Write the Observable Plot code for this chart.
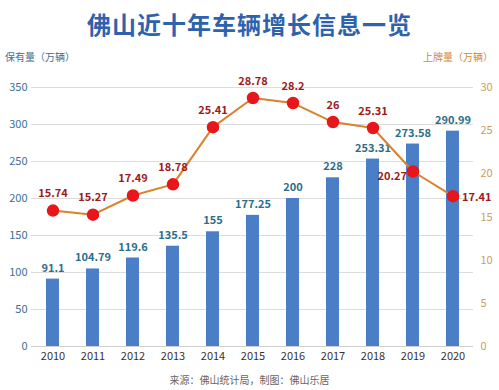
<!DOCTYPE html>
<html><head><meta charset="utf-8">
<script src="https://cdn.jsdelivr.net/npm/d3@7"></script>
<script src="https://cdn.jsdelivr.net/npm/@observablehq/plot@0.6"></script>
<style>
body{margin:0;background:#fff;font-family:"Noto Sans CJK SC","Noto Sans",sans-serif;}
#wrap{position:relative;width:499px;height:390px;overflow:hidden;}
.t{position:absolute;white-space:nowrap;}
</style></head>
<body><div id="wrap">
<div class="t" style="left:0;width:499px;top:6px;text-align:center;font-size:24px;font-weight:bold;color:#2f62ad;letter-spacing:1px;">佛山近十年车辆增长信息一览</div>
<div class="t" style="left:5px;top:49px;font-size:10px;color:#3c6f98;">保有量（万辆）</div>
<div class="t" style="right:6px;top:49px;font-size:10px;color:#d8873a;">上牌量（万辆）</div>
<div class="t" style="left:0;width:499px;top:372px;text-align:center;font-size:10px;color:#666;">来源：佛山统计局，制图：佛山乐居</div>
<div id="chart" style="position:absolute;left:0;top:0;"></div>
</div>
<script>
const years = ["2010","2011","2012","2013","2014","2015","2016","2017","2018","2019","2020"];
const stock = [91.1,104.79,119.6,135.5,155,177.25,200,228,253.31,273.58,290.99];
const plates = [15.74,15.27,17.49,18.78,25.41,28.78,28.2,26,25.31,20.27,17.41];
const leftTicks = [0,50,100,150,200,250,300,350];
const rightTicks = [0,5,10,15,20,25,30];

const k = 350/30;
const data = years.map((y,i)=>({year:y, stock:stock[i], plate:plates[i], py:plates[i]*k}));
const normal = data.slice(0,9), d2019 = data.slice(9,10), d2020 = data.slice(10);

const chart = Plot.plot({
  width:499, height:390,
  marginTop:87, marginBottom:44, marginLeft:31, marginRight:26,
  style:{fontFamily:'"Noto Sans CJK SC","Noto Sans",sans-serif', background:"transparent"},
  x:{type:"band", domain:years, paddingInner:0.68, paddingOuter:0.34, label:null},
  y:{domain:[0,350], label:null},
  marks:[
    Plot.gridY(leftTicks,{stroke:"#dcdcdc", strokeOpacity:1}),
    Plot.ruleY([0],{stroke:"#d0d0d0"}),
    Plot.barY(data,{x:"year", y:"stock", fill:"#4a7ec6"}),
    Plot.text(data,{x:"year", y:"stock", text:d=>String(d.stock), dy:-11, fill:"#2b6e8c", fontSize:11, fontWeight:"bold"}),
    Plot.line(data,{x:"year", y:"py", stroke:"#d8822b", strokeWidth:2}),
    Plot.dot(data,{x:"year", y:"py", r:5.5, fill:"#e8161b", stroke:"#e8161b"}),
    Plot.text(normal,{x:"year", y:"py", text:d=>String(d.plate), dy:-17, fill:"#9c1b1b", fontSize:11, fontWeight:"bold"}),
    Plot.text(d2019,{x:"year", y:"py", text:d=>String(d.plate), dx:-6, dy:5, textAnchor:"end", fill:"#9c1b1b", fontSize:11, fontWeight:"bold"}),
    Plot.text(d2020,{x:"year", y:"py", text:d=>String(d.plate), dx:9, dy:1, textAnchor:"start", fill:"#9c1b1b", fontSize:11, fontWeight:"bold"}),
    Plot.axisY(leftTicks,{anchor:"left", tickSize:0, tickPadding:4, fill:"#3c6f98", fontSize:11, label:null}),
    Plot.axisY(rightTicks.map(v=>v*k),{anchor:"right", tickSize:0, tickPadding:7, fill:"#c9a060", fontSize:11, tickFormat:d=>String(Math.round(d/k)), label:null}),
    Plot.axisX({tickSize:0, tickPadding:6, fill:"#333", fontSize:11, label:null})
  ]
});
document.getElementById("chart").appendChild(chart);
</script>
</body></html>
